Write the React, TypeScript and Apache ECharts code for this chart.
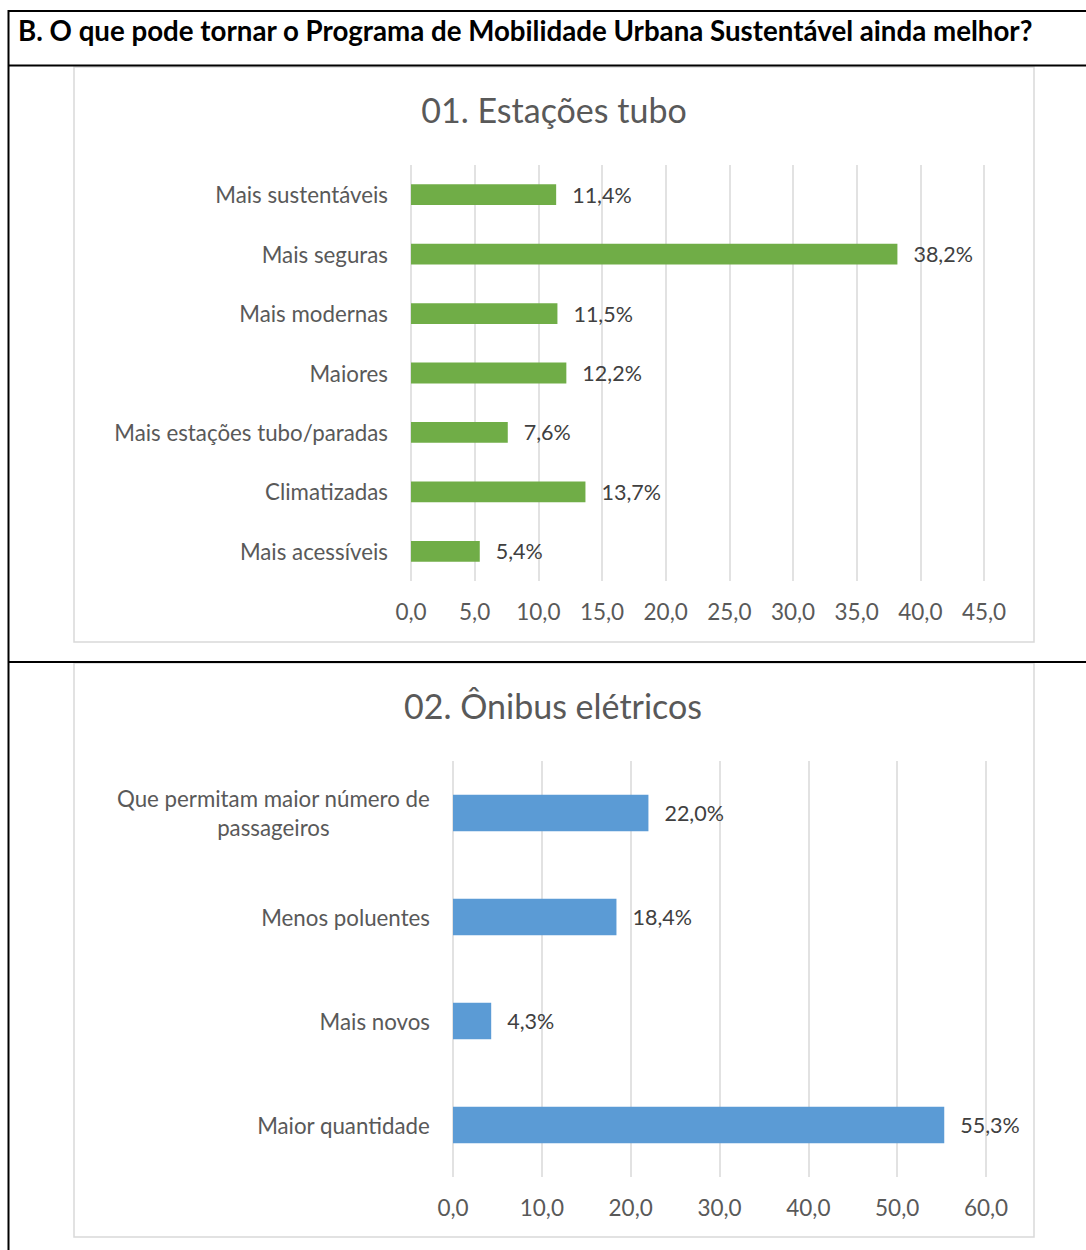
import { useEffect, useRef } from "react";
import * as echarts from "echarts";

const headerText =
  "B. O que pode tornar o Programa de Mobilidade Urbana Sustentável ainda melhor?";

const title1 = "01. Estações tubo";
const cats1 = [
  "Mais sustentáveis",
  "Mais seguras",
  "Mais modernas",
  "Maiores",
  "Mais estações tubo/paradas",
  "Climatizadas",
  "Mais acessíveis",
];
const vals1 = [11.4, 38.2, 11.5, 12.2, 7.6, 13.7, 5.4];
const axis1 = [0, 45, 5]; // min, max, interval

const title2 = "02. Ônibus elétricos";
const cats2 = [
  "Que permitam maior número de\npassageiros",
  "Menos poluentes",
  "Mais novos",
  "Maior quantidade",
];
const vals2 = [22.0, 18.4, 4.3, 55.3];
const axis2 = [0, 60, 10];

const FONT = "Lato, 'Noto Sans', sans-serif";
const AXIS_COLOR = "#595959";
const LABEL_COLOR = "#404040";
const GRID_COLOR = "#d9d9d9";

const fmtNum = (v: number) => v.toFixed(1).replace(".", ",");

export default function App() {
  const ref = useRef<HTMLDivElement>(null);

  useEffect(() => {
    if (!ref.current) return;
    const chart = echarts.init(ref.current, undefined, { renderer: "svg" });

    const xAxisBase = (idx: number, ax: number[]) => ({
      type: "value" as const,
      gridIndex: idx,
      min: ax[0],
      max: ax[1],
      interval: ax[2],
      axisLine: { show: false },
      axisTick: { show: false },
      splitLine: { show: true, lineStyle: { color: GRID_COLOR, width: 1.5 } },
      axisLabel: {
        color: AXIS_COLOR,
        fontSize: 22.5,
        fontFamily: FONT,
        margin: 19,
        formatter: (v: number) => fmtNum(v),
      },
    });

    const yAxisBase = (idx: number, cats: string[]) => ({
      type: "category" as const,
      gridIndex: idx,
      data: cats,
      inverse: true,
      axisLine: { show: false },
      axisTick: { show: false },
      axisLabel: {
        color: AXIS_COLOR,
        fontSize: 22.3,
        fontFamily: FONT,
        margin: 23,
        lineHeight: 29,
        formatter: (v: string) =>
          v
            .split("\n")
            .map((s) => `{c|${s}}`)
            .join("\n"),
        rich: {
          c: {
            align: "center",
            color: AXIS_COLOR,
            fontSize: 22.3,
            fontFamily: FONT,
            lineHeight: 29,
          },
        },
      },
    });

    const seriesBase = (idx: number, vals: number[], color: string) => ({
      type: "bar" as const,
      xAxisIndex: idx,
      yAxisIndex: idx,
      data: vals,
      barWidth: "35%",
      itemStyle: { color },
      label: {
        show: true,
        position: "right" as const,
        distance: 16,
        color: LABEL_COLOR,
        fontSize: 21.5,
        fontFamily: FONT,
        formatter: (p: any) => fmtNum(p.value) + "%",
      },
    });

    const titleStyle = {
      color: AXIS_COLOR,
      fontSize: 34,
      fontWeight: "normal" as const,
      fontFamily: FONT,
    };

    chart.setOption({
      animation: false,
      backgroundColor: "#ffffff",
      title: [
        { text: title1, left: 549, top: 87, textAlign: "center", textStyle: titleStyle },
        { text: title2, left: 548, top: 683, textAlign: "center", textStyle: titleStyle },
      ],
      grid: [
        { left: 411, width: 573, top: 165, height: 416, containLabel: false },
        { left: 453, width: 533, top: 761, height: 416, containLabel: false },
      ],
      xAxis: [xAxisBase(0, axis1), xAxisBase(1, axis2)],
      yAxis: [yAxisBase(0, cats1), yAxisBase(1, cats2)],
      series: [
        seriesBase(0, vals1, "#70ad47"),
        seriesBase(1, vals2, "#5b9bd5"),
      ],
      graphic: [
        {
          type: "rect",
          z: -10,
          shape: { x: 74, y: 67, width: 960, height: 575 },
          style: { fill: "transparent", stroke: GRID_COLOR, lineWidth: 1.5 },
          silent: true,
        },
        {
          type: "rect",
          z: -10,
          shape: { x: 74, y: 663, width: 960, height: 574 },
          style: { fill: "transparent", stroke: GRID_COLOR, lineWidth: 1.5 },
          silent: true,
        },
        {
          type: "line",
          shape: { x1: 8, y1: 11, x2: 1086, y2: 11 },
          style: { stroke: "#000", lineWidth: 2 },
          silent: true,
        },
        {
          type: "line",
          shape: { x1: 8, y1: 65.5, x2: 1086, y2: 65.5 },
          style: { stroke: "#000", lineWidth: 2 },
          silent: true,
        },
        {
          type: "line",
          shape: { x1: 8, y1: 662, x2: 1086, y2: 662 },
          style: { stroke: "#000", lineWidth: 2 },
          silent: true,
        },
        {
          type: "line",
          shape: { x1: 8.5, y1: 10, x2: 8.5, y2: 1250 },
          style: { stroke: "#000", lineWidth: 2 },
          silent: true,
        },
        {
          type: "text",
          x: 18,
          y: 30,
          style: {
            text: headerText,
            fill: "#000",
            fontSize: 27.7,
            fontWeight: "bold",
            fontFamily: FONT,
            textVerticalAlign: "middle",
            verticalAlign: "middle",
          },
          silent: true,
        },
      ],
    });

    return () => chart.dispose();
  }, []);

  return (
    <div
      ref={ref}
      style={{ position: "absolute", left: 0, top: 0, width: 1086, height: 1250 }}
    />
  );
}
